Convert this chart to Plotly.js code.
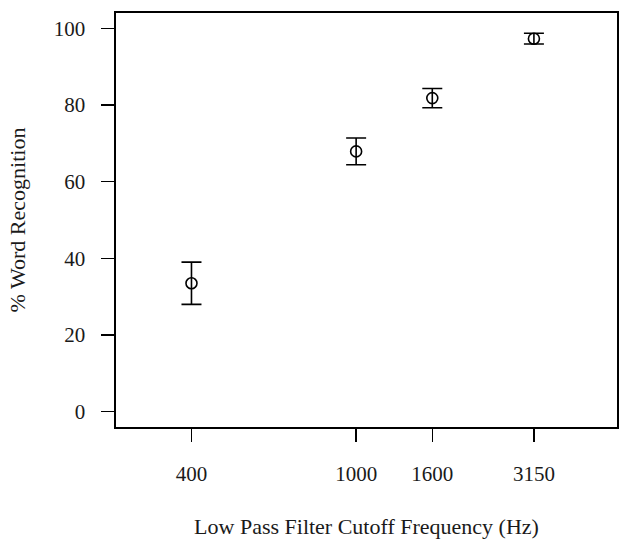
<!DOCTYPE html>
<html>
<head>
<meta charset="utf-8">
<script src="https://cdn.plot.ly/plotly-3.0.1.min.js"></script>
<style>html,body{margin:0;padding:0;background:#fff;}#chart{width:629px;height:557px;}</style>
</head>
<body>
<div id="chart"></div>
<script>
// Data
const frequencies = [400, 1000, 1600, 3150];          // Hz (cutoff)
const tickLabels = ["400", "1000", "1600", "3150"];
const recognition = [33.5, 67.9, 81.8, 97.3];          // % word recognition (mean)
const errorHalf = [5.5, 3.5, 2.5, 1.4];                 // error bar half-length

// x is plotted as log(frequency) on a logarithmic axis (as in the source figure)
const xLog = frequencies.map(f => Math.log(f));
const xLimLow = Math.log(300), xLimHigh = Math.log(5000);
const a = Math.log10(xLimLow), b = Math.log10(xLimHigh), ext = 0.04 * (b - a);

const tickFont = {family: "Liberation Serif, 'DejaVu Serif', serif", size: 21, color: "#1a1a1a"};
const titleFont = {family: "Liberation Serif, 'DejaVu Serif', serif", size: 22, color: "#1a1a1a"};

const trace = {
  x: xLog,
  y: recognition,
  type: "scatter",
  mode: "markers",
  marker: {symbol: "circle-open", size: 11, color: "#000", line: {width: 1.6, color: "#000"}},
  error_y: {type: "data", array: errorHalf, visible: true, color: "#000", thickness: 1.6, width: 10},
  hoverinfo: "skip",
  showlegend: false
};

const layout = {
  width: 629, height: 557,
  margin: {l: 116, r: 12, t: 13, b: 130},
  paper_bgcolor: "#fff", plot_bgcolor: "#fff",
  font: tickFont,
  xaxis: {
    type: "log",
    range: [a - ext, b + ext],
    tickmode: "array",
    tickvals: xLog,
    ticktext: tickLabels,
    ticks: "outside", ticklen: 13, tickwidth: 1.5, tickcolor: "#000",
    showline: true, mirror: true, linecolor: "#000", linewidth: 1.6,
    showgrid: false, zeroline: false,
    ticklabelstandoff: 14,
    tickfont: tickFont,
    title: {text: "Low Pass Filter Cutoff Frequency (Hz)", font: titleFont, standoff: 34}
  },
  yaxis: {
    range: [-4, 104],
    tickmode: "array",
    tickvals: [0, 20, 40, 60, 80, 100],
    ticktext: ["0", "20", "40", "60", "80", "100"],
    ticks: "outside", ticklen: 13, tickwidth: 1.5, tickcolor: "#000",
    showline: true, mirror: true, linecolor: "#000", linewidth: 1.6,
    showgrid: false, zeroline: false,
    ticklabelstandoff: 12,
    tickfont: tickFont,
    title: {text: "% Word Recognition", font: titleFont, standoff: 22}
  }
};

Plotly.newPlot("chart", [trace], layout, {displayModeBar: false, staticPlot: true});
</script>
</body>
</html>
